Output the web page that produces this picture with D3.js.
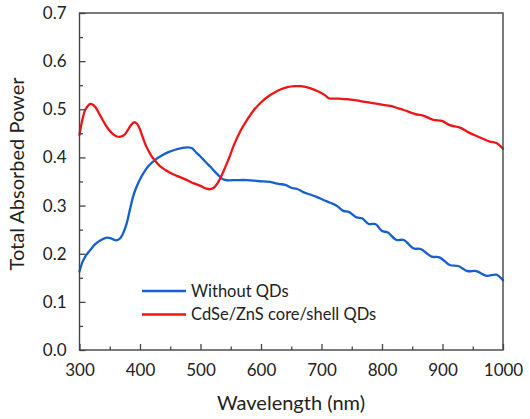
<!DOCTYPE html>
<html>
<head>
<meta charset="utf-8">
<script src="https://cdn.jsdelivr.net/npm/d3@7"></script>
<style>
  html, body { margin: 0; padding: 0; background: #fff; }
  svg { display: block; }
  text { font-family: Lato, "Open Sans", sans-serif; fill: #222; }
</style>
</head>
<body>
<svg id="chart" width="530" height="419"></svg>
<script>
// ---- Data ----
const seriesNames = ["Without QDs", "CdSe/ZnS core/shell QDs"];
const seriesColors = ["#1460d2", "#f01414"];

const blueWl = [300,305,310,318,326,335,345,352,359,364,368,373,378,383,388,393,399,406,414,425,436,447,458,470,480,486,493,500,508,516,524,532,538,545,560,577,595,
  615,629,640,651,659,670,681,692,703,714,725,736,745,758,767,778,789,800,809,824,836,852,864,882,895,912,926,941,956,973,989,1000];
const blueVal = [0.163,0.183,0.195,0.208,0.220,0.228,0.2335,0.232,0.228,0.229,0.233,0.245,0.263,0.290,0.316,0.335,0.352,0.368,0.382,0.395,0.404,0.411,0.416,0.420,0.421,0.419,0.410,0.402,0.391,0.381,0.370,0.360,0.354,0.3525,0.353,0.353,0.351,
  0.349,0.345,0.343,0.3365,0.335,0.328,0.323,0.318,0.3116,0.306,0.2998,0.289,0.287,0.2756,0.2735,0.2617,0.2617,0.247,0.2444,0.2285,0.2285,0.211,0.2098,0.194,0.1925,0.1766,0.1745,0.164,0.164,0.154,0.1565,0.145];

const redWl = [300,305,310,318,326,333,340,347,354,361,368,374,379,385,390,395,400,405,410,418,425,433,442,453,464,476,489,500,510,516,522,528,534,540,547,555,566,577,588,599,610,621,632,644,655,666,681,695,705,712,728,742,764,780,802,814,827,835,855,868,885,899,912,929,943,959,978,989,1000];
const redVal = [0.447,0.480,0.500,0.511,0.505,0.490,0.474,0.460,0.450,0.444,0.443,0.447,0.455,0.467,0.473,0.470,0.458,0.440,0.424,0.405,0.393,0.382,0.374,0.366,0.360,0.354,0.346,0.341,0.335,0.334,0.337,0.346,0.360,0.377,0.398,0.425,0.455,0.478,0.498,0.513,0.525,0.534,0.541,0.546,0.548,0.548,0.544,0.537,0.530,0.523,0.522,0.521,0.517,0.514,0.509,0.507,0.502,0.499,0.490,0.487,0.478,0.476,0.467,0.462,0.452,0.443,0.433,0.430,0.418];

const xTicks = [300,400,500,600,700,800,900,1000];
const xMinor = [350,450,550,650,750,850,950];
const yTicks = [0.0,0.1,0.2,0.3,0.4,0.5,0.6,0.7];
const yMinor = [0.05,0.15,0.25,0.35,0.45,0.55,0.65];
const xTitle = "Wavelength (nm)";
const yTitle = "Total Absorbed Power";

// ---- Layout ----
const svg = d3.select("#chart");
const L = 79.5, R = 503, T = 13, B = 350;
const x = d3.scaleLinear().domain([300, 1000]).range([L, R]);
const y = d3.scaleLinear().domain([0, 0.7]).range([B, T]);
const axisColor = "#444";

// curves
const line = d3.line().x(d => x(d[0])).y(d => y(d[1])).curve(d3.curveCatmullRom.alpha(0.5));
const series = [
  blueWl.map((w, i) => [w, blueVal[i]]),
  redWl.map((w, i) => [w, redVal[i]])
];
const plot = svg.append("g");
series.forEach((s, i) => {
  plot.append("path").attr("d", line(s)).attr("fill", "none")
    .attr("stroke", seriesColors[i]).attr("stroke-width", 2.3)
    .attr("stroke-linejoin", "round").attr("stroke-linecap", "round");
});

// frame
svg.append("rect").attr("x", L).attr("y", T).attr("width", R - L).attr("height", B - T)
  .attr("fill", "none").attr("stroke", axisColor).attr("stroke-width", 1.4);

// axes with inward ticks
const xAxis = d3.axisBottom(x).tickValues(xTicks).tickSizeInner(-6).tickSizeOuter(0).tickPadding(14).tickFormat(d3.format("d"));
const gx = svg.append("g").attr("transform", `translate(0,${B})`).call(xAxis);
const xAxisMinor = d3.axisBottom(x).tickValues(xMinor).tickSizeInner(-3.5).tickSizeOuter(0).tickFormat("");
const gxm = svg.append("g").attr("transform", `translate(0,${B})`).call(xAxisMinor);

const yAxis = d3.axisLeft(y).tickValues(yTicks).tickSizeInner(-6).tickSizeOuter(0).tickPadding(13).tickFormat(d3.format(".1f"));
const gy = svg.append("g").attr("transform", `translate(${L},0)`).call(yAxis);
const yAxisMinor = d3.axisLeft(y).tickValues(yMinor).tickSizeInner(-3.5).tickSizeOuter(0).tickFormat("");
const gym = svg.append("g").attr("transform", `translate(${L},0)`).call(yAxisMinor);

[gx, gxm, gy, gym].forEach(g => {
  g.select(".domain").remove();
  g.selectAll(".tick line").attr("stroke", axisColor).attr("stroke-width", 1.3);
  g.selectAll("text").style("font-family", "Lato, 'Open Sans', sans-serif").style("font-size", "17px").attr("fill", "#222");
});

// titles
svg.append("text").attr("x", 291).attr("y", 410).attr("text-anchor", "middle")
  .style("font-size", "20px").text(xTitle);
svg.append("text").attr("transform", "translate(24,174) rotate(-90)").attr("text-anchor", "middle")
  .style("font-size", "20px").text(yTitle);

// legend
const leg = svg.append("g");
seriesNames.forEach((n, i) => {
  const yy = 291 + i * 23.5;
  leg.append("line").attr("x1", 142).attr("x2", 186).attr("y1", yy).attr("y2", yy)
    .attr("stroke", seriesColors[i]).attr("stroke-width", 2.3);
  leg.append("text").attr("x", 191).attr("y", yy).attr("dy", "0.35em")
    .style("font-size", "16.5px").text(n);
});
</script>
</body>
</html>
